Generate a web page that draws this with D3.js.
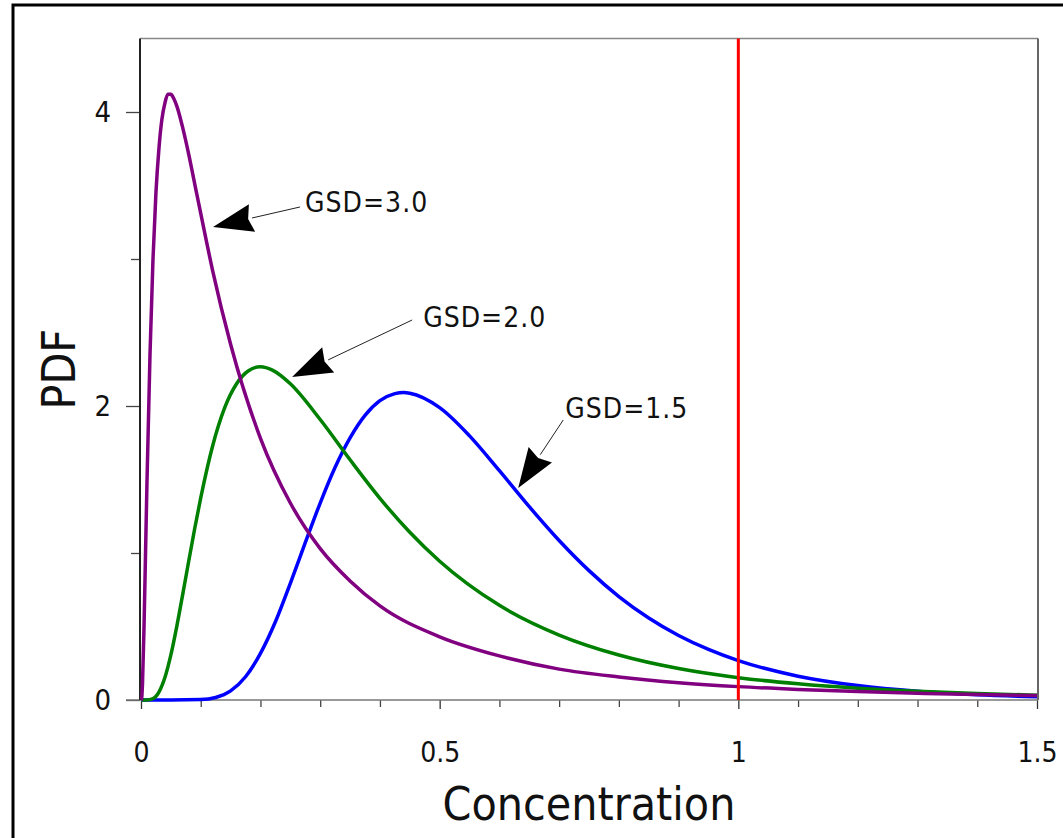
<!DOCTYPE html>
<html>
<head>
<meta charset="utf-8">
<script src="https://cdn.jsdelivr.net/npm/d3@7"></script>
<style>
  body { margin: 0; background: #fff; }
  svg { display: block; }
  text { font-family: "DejaVu Sans Condensed", "DejaVu Sans", sans-serif; font-stretch: condensed; fill: #111; }
</style>
</head>
<body>
<div id="chart"></div>
<script>
// values (x = concentration, y = pdf)
var gsd30X = [0, 0.001, 0.0025, 0.005, 0.0075, 0.01, 0.015, 0.02, 0.025, 0.03, 0.035, 0.04, 0.045, 0.05, 0.055, 0.06, 0.07, 0.08, 0.09, 0.1, 0.12, 0.15, 0.2, 0.25, 0.3, 0.35, 0.4, 0.5, 0.6, 0.7, 0.8, 0.9, 1.0, 1.1, 1.2, 1.3, 1.4, 1.5];
var gsd30Y = [0, 0.008, 0.11, 0.49, 0.98, 1.48, 2.34, 2.99, 3.45, 3.75, 3.95, 4.06, 4.12, 4.12, 4.09, 4.04, 3.89, 3.71, 3.51, 3.31, 2.92, 2.42, 1.78, 1.34, 1.03, 0.81, 0.64, 0.43, 0.30, 0.21, 0.157, 0.118, 0.091, 0.072, 0.057, 0.046, 0.037, 0.031];

var gsd20X = [0, 0.01, 0.02, 0.03, 0.04, 0.05, 0.06, 0.07, 0.08, 0.09, 0.1, 0.12, 0.14, 0.16, 0.18, 0.2, 0.22, 0.25, 0.3, 0.35, 0.4, 0.45, 0.5, 0.6, 0.7, 0.8, 0.9, 1.0, 1.1, 1.2, 1.3, 1.4, 1.5];
var gsd20Y = [0, 0, 0.009, 0.054, 0.153, 0.307, 0.503, 0.722, 0.947, 1.168, 1.375, 1.73, 1.987, 2.151, 2.24, 2.267, 2.244, 2.151, 1.908, 1.634, 1.372, 1.141, 0.944, 0.644, 0.442, 0.306, 0.214, 0.152, 0.110, 0.080, 0.059, 0.044, 0.033];

var gsd15X = [0, 0.05, 0.1, 0.125, 0.15, 0.175, 0.2, 0.225, 0.25, 0.275, 0.3, 0.325, 0.35, 0.375, 0.4, 0.425, 0.44, 0.45, 0.5, 0.55, 0.6, 0.65, 0.7, 0.75, 0.8, 0.85, 0.9, 0.95, 1.0, 1.1, 1.2, 1.3, 1.4, 1.5];
var gsd15Y = [0, 0, 0.003, 0.017, 0.062, 0.158, 0.317, 0.532, 0.794, 1.07, 1.34, 1.583, 1.783, 1.936, 2.036, 2.084, 2.092, 2.087, 1.989, 1.797, 1.56, 1.315, 1.085, 0.88, 0.704, 0.558, 0.439, 0.344, 0.268, 0.162, 0.098, 0.059, 0.036, 0.022];

var seriesNames = ["GSD=3.0", "GSD=2.0", "GSD=1.5"];
var seriesColors = ["#800080", "#008000", "#0000ff"];

var limitValue = 1;

var xMajorTicks = [0, 0.5, 1, 1.5];
var xMinorTicks = [0.1, 0.2, 0.3, 0.4, 0.6, 0.7, 0.8, 0.9, 1.1, 1.2, 1.3, 1.4];
var yMajorTicks = [0, 2, 4];
var yMinorTicks = [1, 3];

// annotation anchors in data units: arrow tip, arrow tail, text start
var annTip = [[0.1206, 3.218], [0.2529, 2.197], [0.6315, 1.442]];
var annTail = [[0.2663, 3.354], [0.4539, 2.585], [0.7069, 1.905]];
var annText = [[0.2747, 3.32], [0.4724, 2.537], [0.7102, 1.918]];

var width = 1063, height = 838;

var svg = d3.select("#chart").append("svg")
    .attr("width", width)
    .attr("height", height);

var x = d3.scaleLinear().domain([0, 1.5]).range([141, 1037]);
var y = d3.scaleLinear().domain([0, 4.5]).range([700, 38.5]);

// outer frame
svg.append("rect")
    .attr("x", 13).attr("y", 5)
    .attr("width", 1200).attr("height", 1000)
    .attr("fill", "none")
    .attr("stroke", "#000")
    .attr("stroke-width", 3);

// plot box
svg.append("line")
    .attr("x1", x(0) - 1).attr("x2", x(1.5) + 1)
    .attr("y1", y(4.5)).attr("y2", y(4.5))
    .attr("stroke", "#888").attr("stroke-width", 1.5);
svg.append("line")
    .attr("x1", x(1.5) + 1).attr("x2", x(1.5) + 1)
    .attr("y1", y(4.5)).attr("y2", y(0))
    .attr("stroke", "#333").attr("stroke-width", 1.5);

// axes
svg.append("g")
    .attr("transform", "translate(0," + y(0) + ")")
    .call(d3.axisBottom(x).tickValues(xMinorTicks).tickSize(7).tickFormat(""))
    .call(g => g.select(".domain").remove())
    .call(g => g.selectAll("line").attr("stroke", "#444").attr("stroke-width", 1.3));

svg.append("g")
    .attr("transform", "translate(0," + y(0) + ")")
    .call(d3.axisBottom(x).tickValues(xMajorTicks).tickSize(9).tickPadding(33)
        .tickFormat(d => String(d)))
    .call(g => g.select(".domain").remove())
    .call(g => g.selectAll("line").attr("stroke", "#333").attr("stroke-width", 1.3))
    .call(g => g.selectAll("text").attr("font-size", 28).attr("fill", "#111"));

svg.append("g")
    .attr("transform", "translate(" + x(0) + ",0)")
    .call(d3.axisLeft(y).tickValues(yMinorTicks).tickSize(10).tickFormat(""))
    .call(g => g.select(".domain").remove())
    .call(g => g.selectAll("line").attr("stroke", "#444").attr("stroke-width", 1.3));

svg.append("g")
    .attr("transform", "translate(" + (x(0) - 1) + ",0)")
    .call(d3.axisLeft(y).tickValues(yMajorTicks).tickSize(14).tickPadding(15)
        .tickFormat(d3.format("d")))
    .call(g => g.select(".domain").remove())
    .call(g => g.selectAll("line").attr("stroke", "#444").attr("stroke-width", 1.3))
    .call(g => g.selectAll("text").attr("font-size", 29).attr("fill", "#111"));

// axis lines
svg.append("line")
    .attr("x1", x(0) - 15).attr("x2", x(1.5) + 1)
    .attr("y1", y(0)).attr("y2", y(0))
    .attr("stroke", "#777").attr("stroke-width", 1.5);
svg.append("line")
    .attr("x1", x(0) - 1).attr("x2", x(0) - 1)
    .attr("y1", y(4.5)).attr("y2", y(0))
    .attr("stroke", "#222").attr("stroke-width", 2);

// curves
var seriesX = [gsd30X, gsd20X, gsd15X];
var seriesY = [gsd30Y, gsd20Y, gsd15Y];

var line = d3.line()
    .x(d => x(d[0]))
    .y(d => y(d[1]))
    .curve(d3.curveMonotoneX);

// draw order: blue, green, purple on top
[2, 1, 0].forEach(function(i) {
    var pts = seriesX[i].map((v, j) => [v, seriesY[i][j]]);
    svg.append("path")
        .datum(pts)
        .attr("d", line)
        .attr("fill", "none")
        .attr("stroke", seriesColors[i])
        .attr("stroke-width", 3.5)
        .attr("stroke-linejoin", "round");
});

// limit line
svg.append("line")
    .attr("x1", x(limitValue)).attr("x2", x(limitValue))
    .attr("y1", y(4.5)).attr("y2", y(0))
    .attr("stroke", "#ff0000").attr("stroke-width", 3);

// annotations
seriesNames.forEach(function(name, i) {
    var tx = x(annTip[i][0]), ty = y(annTip[i][1]);
    var sx = x(annTail[i][0]), sy = y(annTail[i][1]);
    var dx = sx - tx, dy = sy - ty, len = Math.sqrt(dx * dx + dy * dy);
    var ux = dx / len, uy = dy / len;
    var headLen = 40, headW = 14;
    var bx = tx + ux * headLen, by = ty + uy * headLen;

    svg.append("line")
        .attr("x1", bx).attr("y1", by)
        .attr("x2", sx).attr("y2", sy)
        .attr("stroke", "#222").attr("stroke-width", 1);

    svg.append("polygon")
        .attr("points", [
            [tx, ty],
            [bx - uy * headW, by + ux * headW],
            [tx + ux * headLen * 0.9, ty + uy * headLen * 0.9],
            [bx + uy * headW, by - ux * headW]
        ].map(p => p.join(",")).join(" "))
        .attr("fill", "#000");

    svg.append("text")
        .attr("x", x(annText[i][0]))
        .attr("y", y(annText[i][1]))
        .attr("font-size", 28)
        .attr("letter-spacing", 1)
        .text(name);
});

// axis titles
svg.append("text")
    .attr("x", (x(0) + x(1.5)) / 2)
    .attr("y", 820)
    .attr("text-anchor", "middle")
    .attr("font-size", 46)
    .text("Concentration");

svg.append("text")
    .attr("transform", "translate(75," + ((y(0) + y(4.5)) / 2) + ") rotate(-90)")
    .attr("text-anchor", "middle")
    .attr("font-size", 46)
    .text("PDF");
</script>
</body>
</html>
